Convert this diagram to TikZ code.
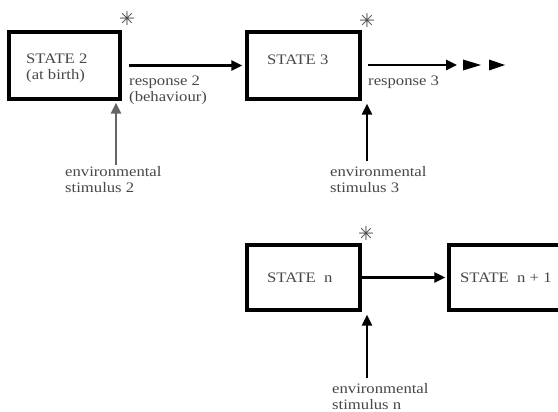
\documentclass[tikz,border=0pt]{standalone}
\usepackage{fontspec}
\setmainfont{Liberation Serif}
\newfontfamily\lab[FakeStretch=1.15]{Liberation Serif}
\newfontfamily\symf{DejaVu Sans Bold}
\usetikzlibrary{arrows.meta}
\definecolor{txtc}{gray}{0.28}
\begin{document}
\begin{tikzpicture}[x=1pt,y=-1pt,
  box/.style={draw=black, line width=3.2pt, rectangle, inner sep=0pt},
  txt/.style={text=txtc, font=\lab\fontsize{14.5}{16}\selectfont, align=left, inner sep=0pt, anchor=base west},
  astx/.style={text=black!70, font=\symf\fontsize{19}{19}\selectfont, inner sep=0pt},
  arr/.style={draw=black, line width=2.6pt, -{Triangle[length=11pt,width=10pt]}},
  garr/.style={draw=black!60, line width=2.6pt, -{Triangle[length=11pt,width=10pt]}},
  tri/.style={fill=black}
]
\useasboundingbox (0,0) rectangle (558,412);
\clip (0,0) rectangle (558,412);
% boxes
\node[box, minimum width=111pt, minimum height=67pt] (s2) at (64.5,65.5) {};
\node[box, minimum width=113pt, minimum height=67pt] (s3) at (303.5,65.5) {};
\node[box, minimum width=113pt, minimum height=65pt] (sn) at (303.5,277.5) {};
\node[box, minimum width=140pt, minimum height=65pt] (sn1) at (519,277.5) {};
% box texts (base = last line)
\node[txt] (t2) at (26,80) {STATE 2\\(at birth)};
\node[txt] (t3) at (267,65) {STATE 3};
\node[txt] (tn) at (267,282) {STATE\ \ n};
\node[txt] (tn1) at (460,282) {STATE\ \ n + 1};
% asterisks
\node[astx] (a2) at (127,19) {✳};
\node[astx] (a3) at (367,21) {✳};
\node[astx] (an) at (366,234) {✳};
% responses
\draw[arr, shorten <=7pt, shorten >=3pt] (s2) -- (s3);
\node[txt] (r2) at (129,102) {response 2\\(behaviour)};
\coordinate (r3end) at (457,65);
\draw[arr, shorten <=6pt] (s3.east |- r3end) -- (r3end);
\fill[tri] (463,59.5) -- (481,65) -- (463,70.5) -- cycle;
\fill[tri] (489,59.5) -- (505,65) -- (489,70.5) -- cycle;
\node[txt] (r3) at (368,86) {response 3};
\draw[arr, shorten >=2pt] (sn) -- (sn1);
% stimuli
\node[txt] (e2) at (65,193) {environmental\\stimulus 2};
\node[txt] (e3) at (330,193) {environmental\\stimulus 3};
\node[txt] (en) at (332,409) {environmental\\stimulus n};
\coordinate (e2c) at (116,165);
\coordinate (e3c) at (367,161);
\coordinate (enc) at (367,378);
\draw[garr, shorten >=2pt] (e2c) -- (e2c |- s2.south);
\draw[arr, shorten >=3pt] (e3c) -- (e3c |- s3.south);
\draw[arr, shorten >=3pt] (enc) -- (enc |- sn.south);
\end{tikzpicture}
\end{document}
